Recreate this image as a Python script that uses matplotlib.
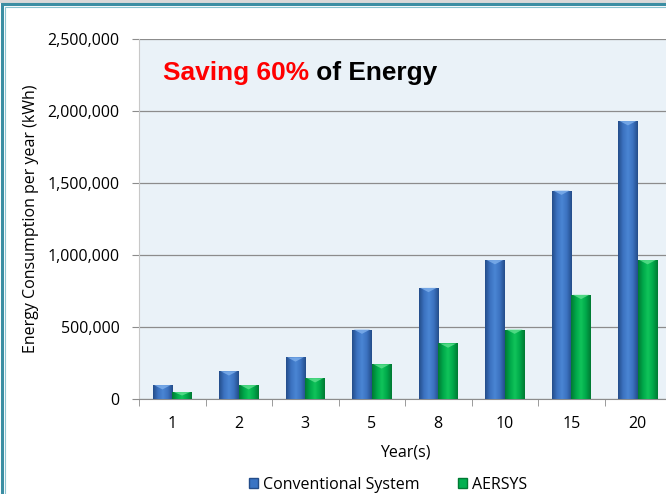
import numpy as np
import matplotlib.pyplot as plt
from matplotlib.colors import LinearSegmentedColormap
from matplotlib.patches import Rectangle, Polygon
from matplotlib.ticker import FuncFormatter, MultipleLocator

years = ['1', '2', '3', '5', '8', '10', '15', '20']
conventional = [96500, 193000, 289500, 482500, 772000, 965000, 1447500, 1930000]
aersys = [48250, 96500, 144750, 241250, 386000, 482500, 723750, 965000]

plt.rcParams['font.family'] = ['Open Sans', 'DejaVu Sans']

fig = plt.figure(figsize=(6.66, 4.94), dpi=100)

# outer frame of the chart
fig.patches.append(Rectangle((0, 0.994), 1, 0.006, transform=fig.transFigure,
                             facecolor='#d9d9d9', edgecolor='none', zorder=0))
fig.patches.append(Rectangle((0.003, -0.05), 1.1, 1.041, transform=fig.transFigure,
                             facecolor='none', edgecolor='#3b8ea3', linewidth=2.2, zorder=1))
fig.patches.append(Rectangle((0.0075, -0.05), 1.1, 1.035, transform=fig.transFigure,
                             facecolor='none', edgecolor='#8cc4d0', linewidth=0.8, zorder=1))

ax = fig.add_axes([139 / 666, 1 - 399 / 494, 532 / 666, 360 / 494])
ax.set_facecolor('#eaf2f8')

x = np.arange(len(years))
w = 0.295
b1 = ax.bar(x - w / 2, conventional, w, color='#3a74c4', zorder=3)
b2 = ax.bar(x + w / 2, aersys, w, color='#00b050', zorder=3)

blue_cm = LinearSegmentedColormap.from_list('b', ['#244d8a', '#3b72c0', '#4a86d4', '#3b72c0', '#244d8a'])
green_cm = LinearSegmentedColormap.from_list('g', ['#007a33', '#00a84a', '#10c45a', '#00a84a', '#007a33'])
grad = np.linspace(0, 1, 64).reshape(1, -1)

for bars, cm, top_c in [(b1, blue_cm, '#7fb0ec'), (b2, green_cm, '#5fe08f')]:
    for p in bars:
        x0, y0 = p.get_x(), p.get_y()
        bw, bh = p.get_width(), p.get_height()
        p.set_facecolor('none')
        im = ax.imshow(grad, cmap=cm, aspect='auto', extent=[x0, x0 + bw, y0, y0 + bh],
                       zorder=3, interpolation='bilinear')
        im.set_clip_path(p)
        dy = min(bh * 0.5, 30000)
        ax.add_patch(Polygon([[x0 + 0.08 * bw, y0 + bh], [x0 + 0.92 * bw, y0 + bh],
                              [x0 + 0.5 * bw, y0 + bh - dy]], closed=True,
                             facecolor=top_c, edgecolor='none', alpha=0.8, zorder=4))

ax.set_xlim(-0.5, len(years) - 0.5)
ax.set_ylim(0, 2500000)
ax.yaxis.set_major_locator(MultipleLocator(500000))
ax.yaxis.set_major_formatter(FuncFormatter(lambda v, pos: f'{int(v):,}'))
ax.grid(axis='y', color='#8c8c8c', linewidth=0.9, zorder=1)

ax.set_xticks(x)
ax.set_xticklabels(years)
ax.set_xticks(np.arange(-0.5, len(years)), minor=True)
ax.tick_params(axis='x', which='major', length=0, pad=12, labelsize=11.5)
ax.tick_params(axis='x', which='minor', length=5, color='#8c8c8c')
ax.tick_params(axis='y', length=5, color='#8c8c8c', labelsize=11.5, pad=9)

for s in ['top', 'right']:
    ax.spines[s].set_visible(False)
ax.spines['left'].set_color('#c8c8c8')
ax.spines['bottom'].set_color('#8c8c8c')

ax.set_ylabel('Energy Consumption per year (kWh)', fontsize=11.5, labelpad=6)
ax.set_xlabel('Year(s)', fontsize=11.5, labelpad=9)

t = ax.text(0.045, 0.906, 'Saving 60%', transform=ax.transAxes, color='#ff0000',
            fontsize=18.9, fontweight='bold', family='Liberation Sans', va='center')
fig.canvas.draw()
ax.annotate(' of Energy', xycoords=t, xy=(1, 0.5), va='center', color='black',
            fontsize=18.9, fontweight='bold', family='Liberation Sans')

h1 = Rectangle((0, 0), 1, 1, facecolor='#3a74c4', edgecolor='#244d8a')
h2 = Rectangle((0, 0), 1, 1, facecolor='#00b050', edgecolor='#007a33')
fig.legend([h1, h2], ['Conventional System', 'AERSYS'], loc='center', ncol=2,
           bbox_to_anchor=(388 / 666, 1 - 485 / 494), frameon=False, fontsize=11.5,
           handlelength=0.6, handleheight=0.6, handletextpad=0.3, columnspacing=2.4)

fig.savefig('out.png', dpi=100)
